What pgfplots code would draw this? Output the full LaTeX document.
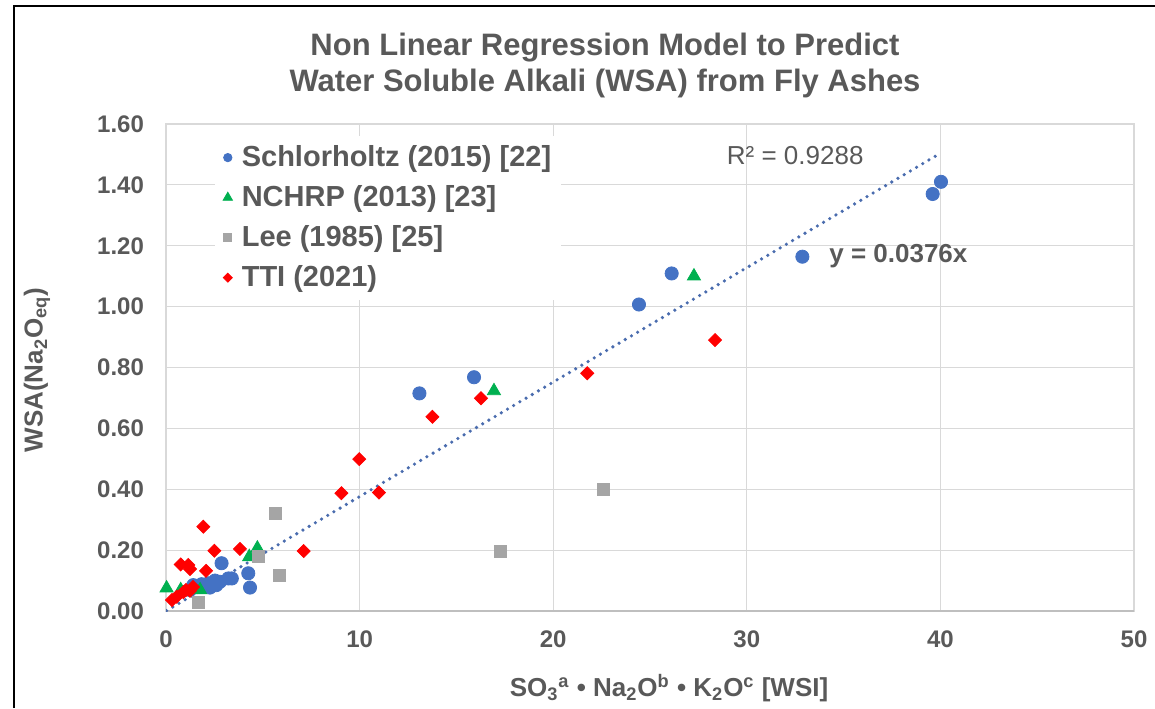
\documentclass[border=0pt]{standalone}
\usepackage{fontspec}
\setmainfont{Liberation Sans}
\usepackage{pgfplots}
\pgfplotsset{compat=1.18}
\definecolor{tgray}{HTML}{595959}
\definecolor{gridc}{HTML}{D9D9D9}
\definecolor{axisc}{HTML}{BFBFBF}
\definecolor{cblue}{HTML}{4472C4}
\definecolor{cline}{HTML}{4A6CAE}
\definecolor{cgreen}{HTML}{00B050}
\definecolor{cgray}{HTML}{A5A5A5}
\definecolor{cred}{HTML}{FF0000}
\begin{document}
\begin{tikzpicture}
\useasboundingbox (0pt,0pt) rectangle (577.5pt,354pt);
\draw[line width=1.3pt] (7pt,0pt) -- (7pt,351pt) -- (577.5pt,351pt);
\node[font=\bfseries\fontsize{15.5}{18}\selectfont, text=tgray, align=center] at (302.5pt,321.5pt)
  {Non Linear Regression Model to Predict\\Water Soluble Alkali (WSA) from Fly Ashes};
\node[font=\bfseries\fontsize{13}{15}\selectfont, text=tgray] at (334.5pt,10pt)
  {SO\textsubscript{3}\textsuperscript{a} • Na\textsubscript{2}O\textsuperscript{b} • K\textsubscript{2}O\textsuperscript{c} [WSI]};
\node[font=\bfseries\fontsize{13}{15}\selectfont, text=tgray, rotate=90] at (18.5pt,169pt)
  {WSA(Na\textsubscript{2}O\textsubscript{eq})};
\begin{axis}[
  at={(83pt,48.5pt)}, anchor=south west,
  scale only axis, width=484pt, height=243.5pt,
  xmin=0, xmax=50, ymin=0, ymax=1.6,
  xtick={0,10,20,30,40,50},
  ytick={0,0.2,0.4,0.6,0.8,1.0,1.2,1.4,1.6},
  grid=major, grid style={gridc, line width=0.6pt},
  axis line style={gridc, line width=0.6pt},
  major tick length=0pt,
  /pgf/number format/assume math mode=true,
  tick label style={font=\bfseries\fontsize{12}{14}\selectfont, text=tgray},
  yticklabel style={/pgf/number format/fixed, /pgf/number format/fixed zerofill, /pgf/number format/precision=2, xshift=-7.5pt},
  xticklabel style={yshift=-6.5pt},
  legend image code/.code={\path[draw=none,fill=none] (0pt,0pt) rectangle (8.5pt,0.1pt); \draw[mark repeat=2,mark phase=2,#1] plot coordinates {(0pt,0pt)(3.5pt,0pt)(7pt,0pt)};},
  legend style={at={(0.05,0.977)}, anchor=north west, draw=none, fill=white,
    font=\bfseries\fontsize{14.5}{17}\selectfont, text=tgray, row sep=4pt, inner sep=3pt},
  legend cell align=left,
]
\addlegendimage{only marks, mark=*, mark size=2.1pt, color=cblue}
\addlegendentry{Schlorholtz (2015) [22]}
\addlegendimage{only marks, mark=triangle*, mark size=2.7pt, color=cgreen}
\addlegendentry{NCHRP (2013) [23]}
\addlegendimage{only marks, mark=square*, mark size=2pt, color=cgray}
\addlegendentry{Lee (1985) [25]}
\addlegendimage{only marks, mark=square*, mark size=1.6pt, mark options={rotate=45}, color=cred}
\addlegendentry{TTI (2021)}

\draw[axisc, line width=0.7pt] (rel axis cs:0,0) -- (rel axis cs:1,0);

\addplot[forget plot, cline, line width=1.8pt, line cap=round, dash pattern=on 0pt off 3.6pt] coordinates {(0.03,0.0011) (40,1.504)};

\addplot[forget plot, only marks, mark=*, mark size=3.3pt, color=cblue] coordinates {
(2.87,0.157) (4.25,0.124) (4.34,0.077) (1.84,0.088) (2.19,0.091) (2.53,0.100) (2.79,0.096)
(3.22,0.107) (3.40,0.107) (2.27,0.077) (1.41,0.085) (1.24,0.069) (2.60,0.085)
(13.09,0.715) (15.91,0.768) (24.43,1.007) (26.12,1.109) (32.87,1.164) (39.6,1.37) (40.03,1.41)};

\addplot[forget plot, only marks, mark=triangle*, mark size=3.8pt, color=cgreen] coordinates {
(0.03,0.075) (0.76,0.069) (1.76,0.069) (4.3,0.178) (4.72,0.206) (16.94,0.723) (27.27,1.10)};

\addplot[forget plot, only marks, mark=square*, mark size=3pt, color=cgray] coordinates {
(1.67,0.028) (4.77,0.178) (5.67,0.321) (5.84,0.118) (17.25,0.197) (22.57,0.40)};

\addplot[forget plot, only marks, mark=square*, mark size=2.3pt, mark options={rotate=45}, color=cred] coordinates {
(0.31,0.036) (0.55,0.047) (0.9,0.062) (1.03,0.069) (1.24,0.066) (1.4,0.079)
(0.76,0.153) (1.15,0.151) (1.24,0.138) (2.07,0.132) (1.93,0.277) (2.5,0.198) (3.82,0.204)
(7.11,0.197) (9.06,0.387) (9.98,0.499) (11.0,0.389) (13.76,0.638) (16.27,0.699) (21.76,0.781) (28.36,0.89)};

\node[font=\fontsize{13}{15}\selectfont, text=tgray] at (axis cs:32.5,1.498) {R² = 0.9288};
\node[font=\bfseries\fontsize{13}{15}\selectfont, text=tgray, anchor=west] at (axis cs:33.9,1.166) {y = 0.0376x};
\end{axis}
\end{tikzpicture}
\end{document}
